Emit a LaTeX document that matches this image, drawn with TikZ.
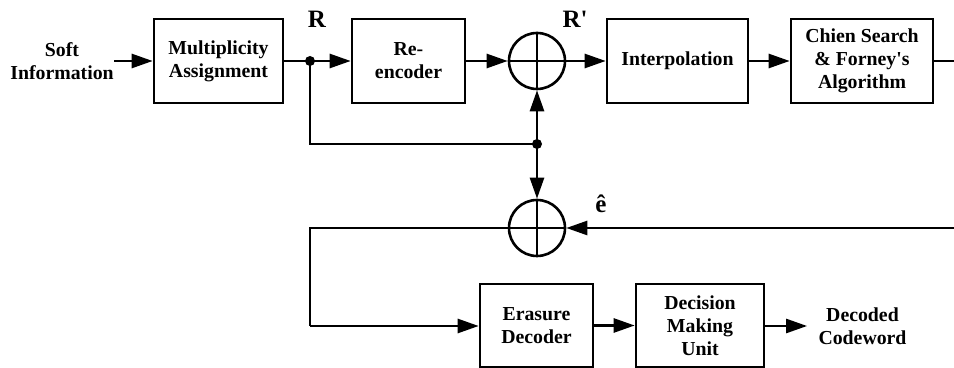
\documentclass[tikz,border=0pt]{standalone}
\usepackage{fontspec}
\setmainfont{Liberation Serif}[Ligatures=TeXOff]
\usetikzlibrary{arrows.meta}
\begin{document}
\begin{tikzpicture}[x=0.5pt,y=-0.5pt,
  every node/.style={font=\fontsize{9.9}{11.5}\selectfont\bfseries, align=center},
  blk/.style={draw, line width=1.3pt, inner sep=0pt, minimum height=42pt},
  adder/.style={draw, circle, line width=1.3pt, inner sep=0pt, minimum size=28pt},
  wire/.style={line width=1.3pt},
  arr/.style={wire, -{Triangle[length=10.5pt,width=7pt]}},
  jdot/.style={circle, fill, inner sep=0pt, minimum size=5pt},
  txt/.style={inner sep=0pt},
  lbl/.style={inner sep=0pt, font=\fontsize{12.5}{14}\selectfont\bfseries}]
\useasboundingbox (0,0) rectangle (954,368);
% blocks
\node[blk, minimum width=64.5pt] (ma) at (218.5,61) {Multiplicity\\Assignment};
\node[blk, minimum width=56.5pt] (re) at (408.5,61) {Re-\\encoder};
\node[adder] (a1) at (537,61) {};
\node[blk, minimum width=70.5pt] (ip) at (677.5,61) {Interpolation};
\node[blk, minimum width=71pt] (cs) at (862,61) {Chien Search\\\& Forney's\\Algorithm};
\node[adder] (a2) at (537,228) {};
\node[blk, minimum width=56.5pt, minimum height=41.5pt] (ed) at (536.5,325.5) {Erasure\\Decoder};
\node[blk, minimum width=64pt, minimum height=41.5pt] (dm) at (700,325.5) {Decision\\Making\\Unit};
% texts
\node[txt] (si) at (62,61) {Soft\\Information};
\node[txt, inner xsep=5.5pt] (dc) at (862.5,326) {Decoded\\Codeword};
\node[lbl] (lr) at (317,19) {R};
\node[lbl] (lrp) at (575,19) {R'};
\node[lbl] (le) at (601,204) {ê};
% adder crosses
\draw[wire] (a1.north) -- (a1.south) (a1.west) -- (a1.east);
\draw[wire] (a2.north) -- (a2.south) (a2.west) -- (a2.east);
% junctions
\node[jdot] (j1) at (310,61) {};
\node[jdot] (j2) at (537,144) {};
\coordinate (rt) at (954,61);
\coordinate (rb) at (954,228);
\coordinate (lc) at (310,228);
\coordinate (lb) at (310,326);
% connectors
\draw[arr] (si.east |- ma.west) -- (ma.west);
\draw[wire] (ma.east) -- (j1.center);
\draw[arr] (j1.center) -- (re.west);
\draw[arr] (re.east) -- (a1.west);
\draw[arr] (a1.east) -- (ip.west);
\draw[arr] (ip.east) -- (cs.west);
\draw[wire] (cs.east) -- (rt);
\draw[wire] (j1.center) |- (j2.center);
\draw[arr] (j2.center) -- (a1.south);
\draw[arr] (j2.center) -- (a2.north);
\draw[arr] (rb) -- (a2.east);
\draw[wire] (a2.west) -- (lc) -- (lb);
\draw[arr] (lb) -- (lb -| ed.west);
\draw[arr] (ed.east) -- (dm.west);
\draw[arr] (dm.east |- dc.west) -- (dc.west);
\end{tikzpicture}
\end{document}
